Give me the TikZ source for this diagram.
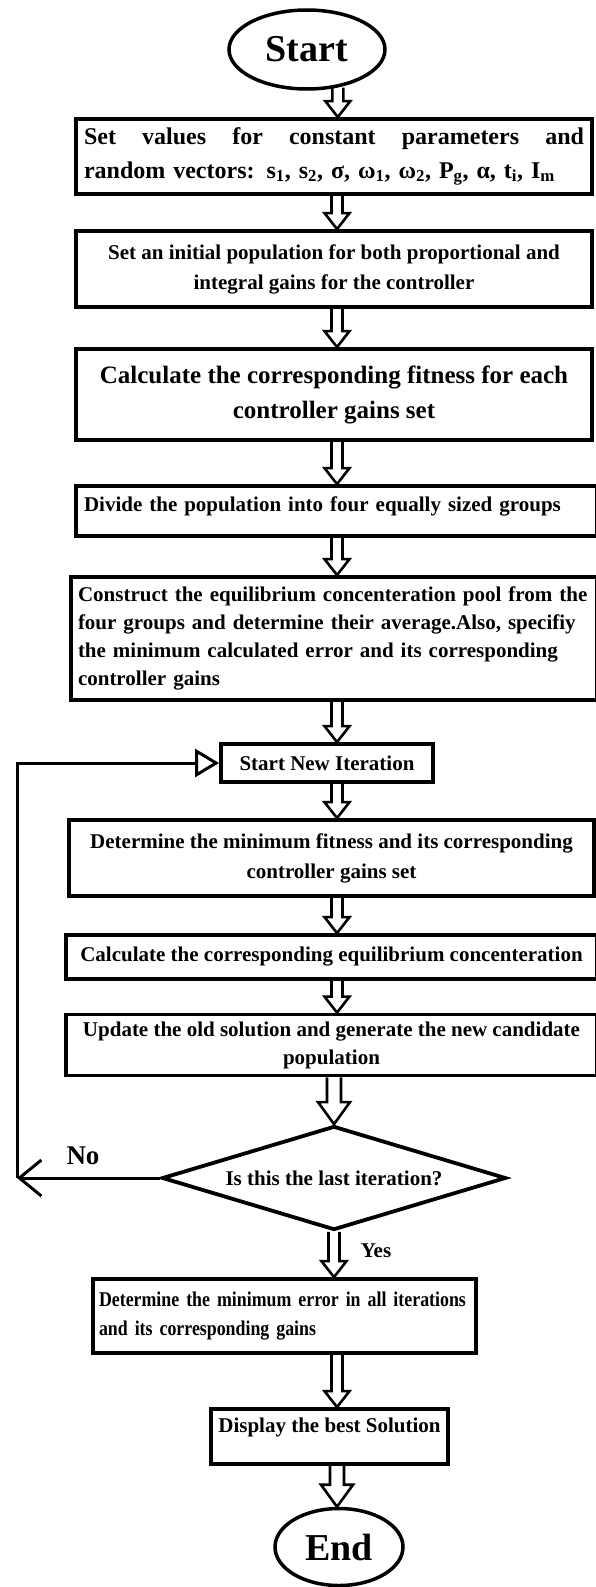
\documentclass[tikz,border=0pt]{standalone}
\usepackage{fontspec}
\setmainfont{Liberation Serif}
\newfontfamily\narrowfont[FakeStretch=0.85]{Liberation Serif}
\usetikzlibrary{shapes.geometric, arrows.meta, calc}

\begin{document}
\begin{tikzpicture}[x=1pt, y=-1pt]
\tikzstyle{term}=[ellipse, draw, line width=3.5pt, inner sep=0pt, font=\bfseries\fontsize{38}{44}\selectfont]
\tikzstyle{process}=[rectangle, draw, line width=3.8pt, inner sep=7pt, font=\bfseries\fontsize{21}{30}\selectfont]
\tikzstyle{decision}=[diamond, aspect=3.3, draw, line width=3.8pt, inner sep=0pt, font=\bfseries\fontsize{21}{26}\selectfont]
\tikzstyle{loopline}=[line width=3pt]
\tikzset{blockarrow/.style n args={3}{line width=2.6pt, line join=miter, to path={let \p1=(\tikztostart), \p2=(\tikztotarget) in
  (\x1-#1,\y1) -- (\x1-#1,\y2+#3) -- (\x1-#2,\y2+#3) -- (\x1,\y2) -- (\x1+#2,\y2+#3) -- (\x1+#1,\y2+#3) -- (\x1+#1,\y1)}},
  hollow/.style={blockarrow={5.5pt}{12.5pt}{16pt}},
  bighollow/.style={blockarrow={7pt}{16pt}{22pt}}}
\useasboundingbox (0,0) rectangle (595,1587);
\coordinate (axis) at (337,0);
\node[term, minimum width=156pt, minimum height=79pt] (start) at (307,49.5) {Start};
\node[process, minimum width=516pt, minimum height=75pt, text width=500pt, align=left, font=\bfseries\fontsize{24}{34}\selectfont] (params) at (334,156.5) {Set\hfill values\hfill for\hfill constant\hfill parameters\hfill and\\ random vectors: s\textsubscript{1}, s\textsubscript{2}, σ, ω\textsubscript{1}, ω\textsubscript{2}, P\textsubscript{g}, α, t\textsubscript{i}, I\textsubscript{m}};
\node[process, minimum width=516pt, minimum height=76pt, align=center] (init) at (334,269) {Set an initial population for both proportional and\\ integral gains for the controller};
\node[process, minimum width=516pt, minimum height=91pt, align=center, font=\bfseries\fontsize{25}{35}\selectfont] (fitness) at (334,394.5) {Calculate the corresponding fitness for each\\ controller gains set};
\node[process, minimum width=521pt, minimum height=50pt, text width=505pt, align=left, text depth=14pt] (divide) at (336.5,511) {Divide the population into four equally sized groups};
\node[process, minimum width=526pt, minimum height=123pt, text width=512pt, align=left, font=\bfseries\fontsize{21}{28}\selectfont] (pool) at (334,638.5) {Construct the equilibrium concenteration pool from the\\ four groups and determine their average.Also, specifiy\\ the minimum calculated error and its corresponding\\ controller gains};
\node[process, minimum width=212pt, minimum height=38pt] (iter) at (327,763) {Start New Iteration};
\node[process, minimum width=525pt, minimum height=76pt, align=center] (minfit) at (331.5,858) {Determine the minimum fitness and its corresponding\\ controller gains set};
\node[process, minimum width=531pt, minimum height=44pt] (equil) at (331.5,957) {Calculate the corresponding equilibrium concenteration};
\node[process, minimum width=531pt, minimum height=56pt, align=center, font=\bfseries\fontsize{21}{28}\selectfont] (update) at (331.5,1045) {Update the old solution and generate the new candidate\\ population};
\node[decision, minimum width=344pt, minimum height=104pt] (last) at (334,1178) {Is this the last iteration?};
\node[process, minimum width=383pt, minimum height=74pt, inner xsep=6pt, text width=371pt, align=left, font=\narrowfont\bfseries\fontsize{21}{29}\selectfont] (minerr) at (284.5,1316) {Determine the minimum error in all iterations\\ and its corresponding gains};
\node[process, minimum width=227pt, minimum height=55pt, text depth=22pt] (best) at (329.5,1436.5) {Display the best Solution};
\node[term, minimum width=128pt, minimum height=77pt] (end) at (339,1547) {End};
\node[font=\bfseries\fontsize{27}{30}\selectfont] (no) at (83,1156) {No};
\node[font=\bfseries\fontsize{21}{24}\selectfont] (yes) at (376,1251) {Yes};
% block arrows down the chart
\draw[hollow] (start.-51) to (params.north -| start.-51);
\draw[hollow] (params.south -| axis) to (init.north -| axis);
\draw[hollow] (init.south -| axis) to (fitness.north -| axis);
\draw[hollow] (fitness.south -| axis) to (divide.north -| axis);
\draw[hollow] (divide.south -| axis) to (pool.north -| axis);
\draw[hollow] (pool.south -| axis) to (iter.north -| axis);
\draw[hollow] (iter.south -| axis) to (minfit.north -| axis);
\draw[hollow] (minfit.south -| axis) to (equil.north -| axis);
\draw[hollow] (equil.south -| axis) to (update.north -| axis);
\draw[bighollow] (update.south -| last.north) to (last.north);
\draw[hollow] (last.south) to (minerr.north -| last.south);
\draw[hollow] (minerr.south -| axis) to (best.north -| axis);
\draw[bighollow] (best.south -| axis) to (end.north -| axis);
% loop back
\coordinate (loop) at (17,1178);
\draw[loopline, -{Straight Barb[length=22pt, width=36pt]}] (last.west) -- (loop);
\draw[loopline, -{Triangle[open, length=24pt, width=28pt]}] (loop) |- (iter.west);
\end{tikzpicture}
\end{document}
